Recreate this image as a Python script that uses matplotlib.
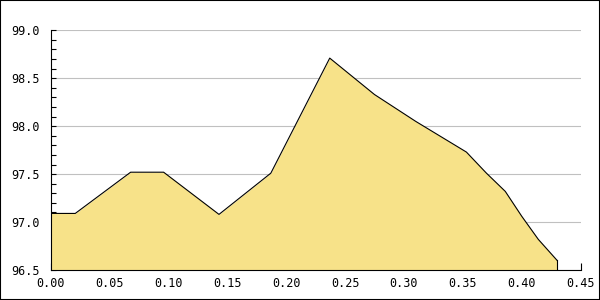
import matplotlib
matplotlib.use("Agg")
import matplotlib.pyplot as plt
from matplotlib.patches import Rectangle
from matplotlib.ticker import MultipleLocator, FormatStrFormatter

# Values
x_vals = [0.0, 0.021, 0.068, 0.096, 0.143, 0.187, 0.237, 0.275, 0.31,
          0.353, 0.370, 0.386, 0.400, 0.414, 0.430]
y_vals = [97.09, 97.09, 97.52, 97.52, 97.08, 97.51, 98.71, 98.33, 98.05,
          97.73, 97.51, 97.32, 97.06, 96.82, 96.60]

fig = plt.figure(figsize=(6, 3), dpi=100)
ax = fig.add_axes([0.0842, 0.1, 0.8836, 0.799])

ax.fill_between(x_vals, y_vals, 96.5, color="#F7E289", linewidth=0)
ax.plot(x_vals, y_vals, color="black", linewidth=0.8)
ax.plot([x_vals[-1], x_vals[-1]], [96.5, y_vals[-1]], color="black", linewidth=0.8)

ax.set_xlim(0, 0.45)
ax.set_ylim(96.5, 99.0)
ax.xaxis.set_major_locator(MultipleLocator(0.05))
ax.yaxis.set_major_locator(MultipleLocator(0.5))
ax.yaxis.set_minor_locator(MultipleLocator(0.1))
ax.xaxis.set_major_formatter(FormatStrFormatter("%.2f"))
ax.yaxis.set_major_formatter(FormatStrFormatter("%.1f"))

ax.grid(axis="y", color="#c0c0c0", linewidth=0.8)
ax.set_axisbelow(True)
for s in ["top", "right"]:
    ax.spines[s].set_visible(False)
for s in ["left", "bottom"]:
    ax.spines[s].set_linewidth(0.8)

ax.tick_params(axis="x", direction="in", length=5, width=0.8, pad=5,
               labelsize=8.5)
ax.tick_params(axis="y", which="major", direction="in", length=3.5, width=0.8,
               pad=8, labelsize=8.5)
ax.tick_params(axis="y", which="minor", direction="in", length=3.5, width=0.8)
for lbl in ax.get_xticklabels() + ax.get_yticklabels():
    lbl.set_family("DejaVu Sans Mono")

fig.patches.append(Rectangle((0, 0), 1, 1, transform=fig.transFigure,
                             fill=False, edgecolor="black", linewidth=1.5))

fig.savefig("out.png", dpi=100, facecolor="white")
